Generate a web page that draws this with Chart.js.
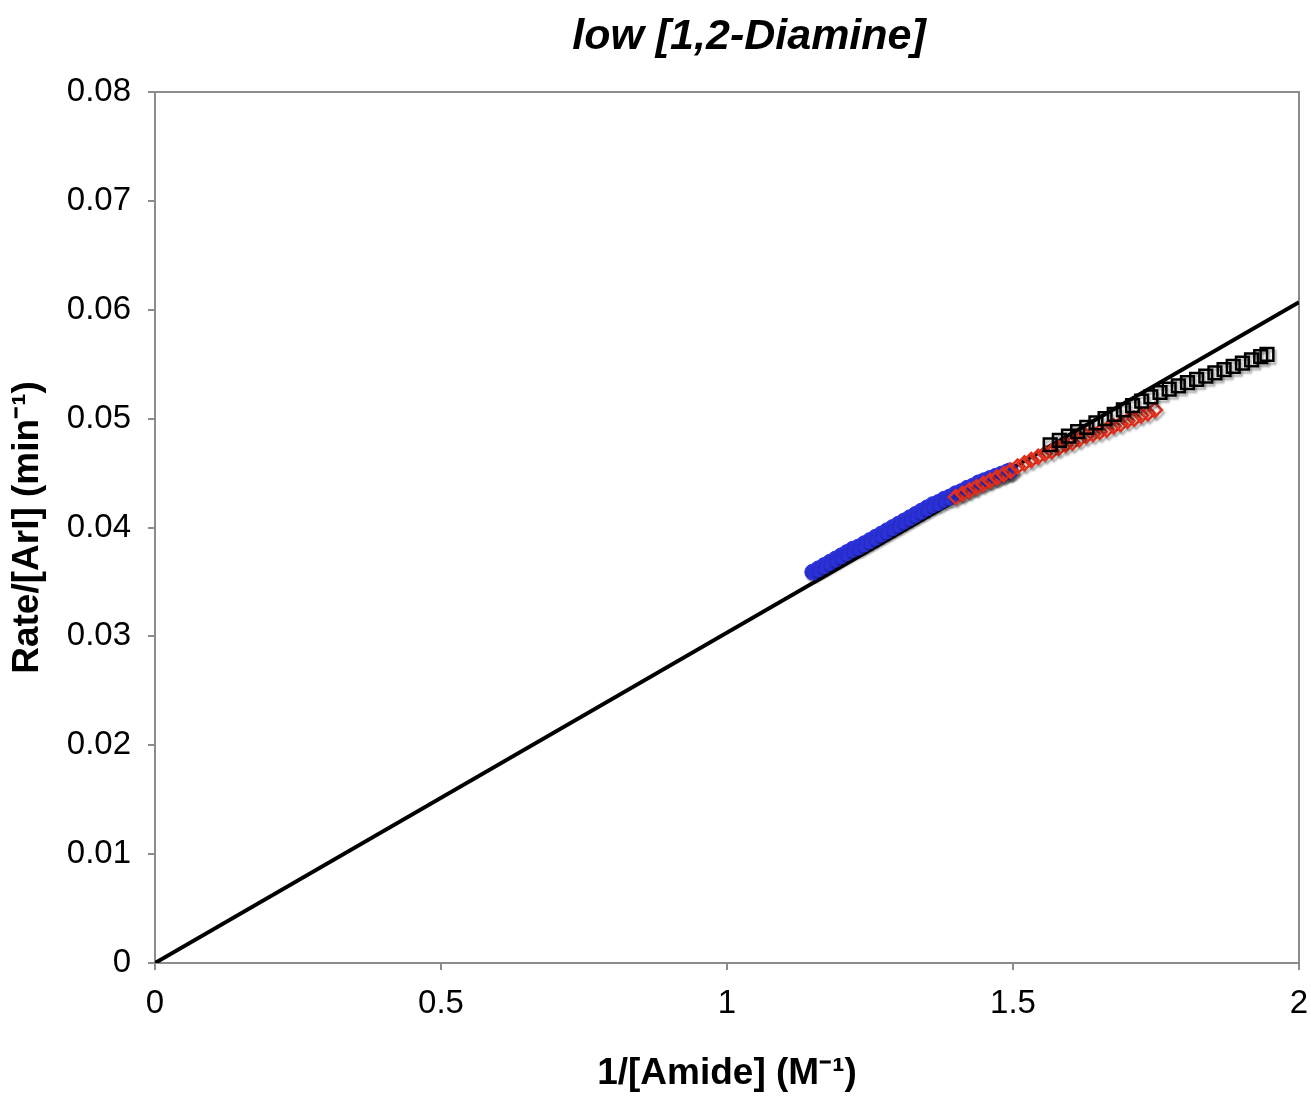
<!DOCTYPE html>
<html>
<head>
<meta charset="utf-8">
<script src="https://cdn.jsdelivr.net/npm/chart.js@4"></script>
<style>
  html, body { margin: 0; padding: 0; background: #fff; }
  #wrap { width: 1311px; height: 1096px; }
</style>
</head>
<body>
<div id="wrap"><canvas id="chart" width="1311" height="1096"></canvas></div>
<script>
// data
const blueX = [1.15, 1.16, 1.17, 1.18, 1.19, 1.20, 1.21, 1.22, 1.23, 1.24, 1.25, 1.26, 1.27, 1.28, 1.29, 1.30, 1.31, 1.32,
  1.33, 1.34, 1.35, 1.36, 1.37, 1.38, 1.39, 1.40, 1.41, 1.42, 1.43, 1.44, 1.45, 1.46, 1.47, 1.48, 1.49, 1.495];
const blueY = [0.0359, 0.0362, 0.0365, 0.0368, 0.0371, 0.0374, 0.0377, 0.0380, 0.0382, 0.0385, 0.0388, 0.0391, 0.0394,
  0.0397, 0.0400, 0.0403, 0.0406, 0.0409, 0.0412, 0.0415, 0.0418, 0.0421, 0.0423, 0.0426, 0.0428, 0.0431, 0.0433,
  0.0436, 0.0438, 0.0441, 0.0443, 0.0445, 0.0447, 0.0449, 0.0451, 0.0452];

const redX = [1.400, 1.412, 1.424, 1.436, 1.448, 1.460, 1.472, 1.484, 1.496, 1.508, 1.520, 1.532, 1.544, 1.556, 1.568,
  1.580, 1.592, 1.604, 1.616, 1.628, 1.640, 1.652, 1.664, 1.676, 1.688, 1.700, 1.712, 1.724, 1.736, 1.748];
const redY = [0.0428, 0.0431, 0.0434, 0.0437, 0.0440, 0.0443, 0.0446, 0.0449, 0.0452, 0.0456, 0.0459, 0.0462, 0.0465,
  0.0468, 0.0470, 0.0473, 0.0476, 0.0478, 0.0481, 0.0484, 0.0486, 0.0488, 0.0490, 0.0493, 0.0495, 0.0498, 0.0500,
  0.0503, 0.0505, 0.0508];

const blackX = [1.565, 1.581, 1.597, 1.613, 1.629, 1.645, 1.661, 1.677, 1.693, 1.709, 1.725, 1.741, 1.757, 1.773,
  1.789, 1.805, 1.821, 1.837, 1.853, 1.869, 1.885, 1.901, 1.917, 1.933, 1.944];
const blackY = [0.0476, 0.0480, 0.0484, 0.0488, 0.0492, 0.0496, 0.0500, 0.0504, 0.0508, 0.0512, 0.0516, 0.0520,
  0.0524, 0.0527, 0.0530, 0.0533, 0.0536, 0.0539, 0.0542, 0.0545, 0.0548, 0.0551, 0.0554, 0.0557, 0.0559];

// straight fit line through the origin
const fitX = [0, 2];
const fitY = [0, 0.0607];

const xTickLabels = ['0', '0.5', '1', '1.5', '2'];
const yTickLabels = ['0', '0.01', '0.02', '0.03', '0.04', '0.05', '0.06', '0.07', '0.08'];
const chartTitle = 'low [1,2-Diamine]';

function pts(xs, ys) {
  return xs.map((x, i) => ({ x: x, y: ys[i] }));
}

const FONT = '"Liberation Sans", Arial, Helvetica, sans-serif';
const axisGray = '#8c8c8c';

// gray drop shadow under the markers, like the excel export
const shadowPlugin = {
  id: 'markerShadow',
  beforeDatasetDraw(chart, args) {
    if (args.meta.type !== 'scatter') return;
    const ctx = chart.ctx;
    ctx.save();
    ctx.shadowColor = 'rgba(0,0,0,0.3)';
    ctx.shadowOffsetX = 2;
    ctx.shadowOffsetY = 3;
    ctx.shadowBlur = 2;
  },
  afterDatasetDraw(chart, args) {
    if (args.meta.type !== 'scatter') return;
    chart.ctx.restore();
  }
};

// box round the plot (top and right side) + the title, which sits a bit right of centre
const boxPlugin = {
  id: 'plotBox',
  beforeDatasetsDraw(chart) {
    const a = chart.chartArea;
    const ctx = chart.ctx;
    ctx.save();
    ctx.strokeStyle = axisGray;
    ctx.lineWidth = 2;
    ctx.beginPath();
    ctx.moveTo(a.left, a.top);
    ctx.lineTo(a.right, a.top);
    ctx.lineTo(a.right, a.bottom);
    ctx.stroke();
    ctx.restore();
  },
  afterDraw(chart) {
    const a = chart.chartArea;
    const ctx = chart.ctx;
    ctx.save();
    ctx.fillStyle = '#000';
    ctx.font = 'italic bold 43px ' + FONT;
    ctx.textAlign = 'center';
    ctx.textBaseline = 'middle';
    ctx.fillText(chartTitle, (a.left + a.right) / 2 + 22, 37);
    ctx.restore();
  }
};

new Chart(document.getElementById('chart'), {
  type: 'scatter',
  data: {
    datasets: [
      {
        label: 'black',
        data: pts(blackX, blackY),
        pointStyle: 'rect',
        pointRadius: 9,
        borderWidth: 2.5,
        borderColor: '#000',
        backgroundColor: 'rgba(255,255,255,0)'
      },
      {
        label: 'red',
        data: pts(redX, redY),
        pointStyle: 'rectRot',
        pointRadius: 7,
        borderWidth: 2.5,
        borderColor: '#e2301c',
        backgroundColor: 'rgba(255,255,255,0)'
      },
      {
        label: 'blue',
        data: pts(blueX, blueY),
        pointStyle: 'circle',
        pointRadius: 8,
        borderWidth: 1,
        borderColor: '#2b32dc',
        backgroundColor: '#2b32dc'
      },
      {
        type: 'line',
        label: 'fit',
        data: pts(fitX, fitY),
        borderColor: '#000',
        borderWidth: 4,
        pointRadius: 0,
        fill: false
      }
    ]
  },
  options: {
    responsive: false,
    animation: false,
    layout: { padding: { left: 0, right: 0, top: 92, bottom: 0 } },
    plugins: {
      legend: { display: false },
      tooltip: { enabled: false },
      title: { display: false }
    },
    scales: {
      x: {
        type: 'linear',
        min: 0,
        max: 2,
        ticks: {
          stepSize: 0.5,
          color: '#000',
          padding: 14,
          font: { family: FONT, size: 33 },
          maxRotation: 0,
          callback: (v, i) => xTickLabels[i]
        },
        grid: { drawOnChartArea: false, drawTicks: true, tickLength: 7, color: axisGray, lineWidth: 2 },
        border: { display: true, color: axisGray, width: 2 },
        title: {
          display: true,
          text: '1/[Amide] (M\u207B\u00B9)',
          color: '#000',
          font: { family: FONT, size: 37, weight: 'bold', lineHeight: 1.2 },
          padding: { top: 0, bottom: 0 }
        },
        afterFit(scale) {
          scale.height = 133;
          scale.paddingRight = 12;
        }
      },
      y: {
        type: 'linear',
        min: 0,
        max: 0.08,
        ticks: {
          stepSize: 0.01,
          color: '#000',
          padding: 17,
          font: { family: FONT, size: 33 },
          callback: (v, i) => yTickLabels[i]
        },
        grid: { drawOnChartArea: false, drawTicks: true, tickLength: 7, color: axisGray, lineWidth: 2 },
        border: { display: true, color: axisGray, width: 2 },
        title: {
          display: true,
          text: 'Rate/[ArI] (min\u207B\u00B9)',
          color: '#000',
          font: { family: FONT, size: 37, weight: 'bold', lineHeight: 1.2 },
          padding: { top: 6, bottom: 0 }
        },
        afterFit(scale) { scale.width = 155; }
      }
    }
  },
  plugins: [shadowPlugin, boxPlugin]
});
</script>
</body>
</html>
